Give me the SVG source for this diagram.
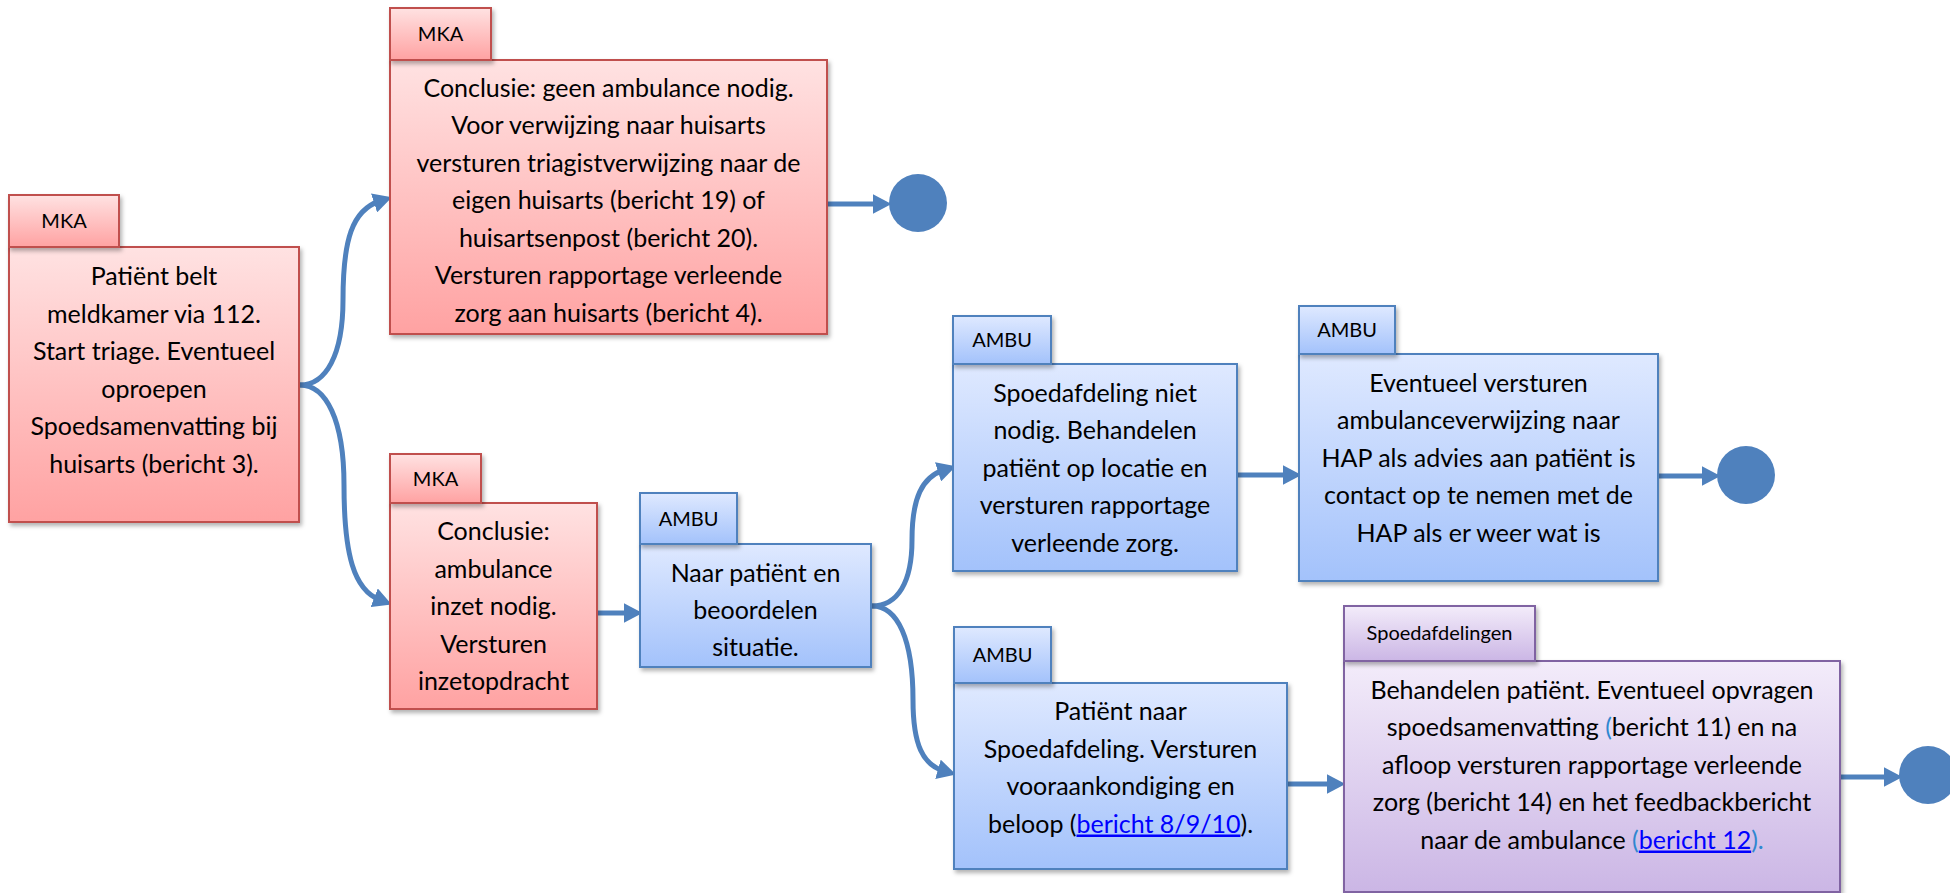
<svg xmlns="http://www.w3.org/2000/svg" width="1950" height="893" viewBox="0 0 1950 893">
<style>
.t{font-family:Lato,"Open Sans","Liberation Sans",sans-serif;font-size:25px;fill:#000;text-anchor:middle}
.tab{font-family:Lato,"Open Sans","Liberation Sans",sans-serif;font-size:20px;fill:#000;text-anchor:middle}
.red{fill:url(#gRed);stroke:#C0504D;stroke-width:2}
.blue{fill:url(#gBlue);stroke:#4F81BD;stroke-width:2}
.purple{fill:url(#gPurple);stroke:#8064A2;stroke-width:2}
.sh{filter:url(#shadow)}
.conn{fill:none;stroke:#4F81BD;stroke-width:5;marker-end:url(#arr)}
.end{fill:#4F81BD}
.link{fill:#0000FF;text-decoration:underline}
.lb{fill:#2F87D0}
</style>
<defs>
<linearGradient id="gRed" x1="0" y1="0" x2="0" y2="1"><stop offset="0" stop-color="#FFE2E2"/><stop offset="1" stop-color="#FFA2A2"/></linearGradient>
<linearGradient id="gBlue" x1="0" y1="0" x2="0" y2="1"><stop offset="0" stop-color="#DFE9FF"/><stop offset="1" stop-color="#A3C2FB"/></linearGradient>
<linearGradient id="gPurple" x1="0" y1="0" x2="0" y2="1"><stop offset="0" stop-color="#F3ECFA"/><stop offset="1" stop-color="#CBB6E5"/></linearGradient>
<filter id="shadow" x="-10%" y="-10%" width="125%" height="130%"><feDropShadow dx="2" dy="3" stdDeviation="2" flood-color="#000" flood-opacity="0.3"/></filter>
<marker id="arr" markerUnits="userSpaceOnUse" markerWidth="20" markerHeight="20" refX="5" refY="8" orient="auto" viewBox="0 0 16 16"><path d="M0,0 L15,8 L0,16 Z" fill="#4F81BD"/></marker>
</defs>

<g id="connectors">
<path class="conn" d="M300,385 C326,385 343,355 343,300 C343,240 352,210 380,201"/>
<path class="conn" d="M300,385 C326,385 344,420 344,485 C344,555 354,590 380,600"/>
<path class="conn" d="M828,204 L879,204"/>
<path class="conn" d="M598,613 L630,613"/>
<path class="conn" d="M872,606 C898,606 912,582 912,540 C912,498 922,477 944,470"/>
<path class="conn" d="M872,606 C898,606 913,640 913,700 C913,745 923,765 944,771"/>
<path class="conn" d="M1238,475 L1289,475"/>
<path class="conn" d="M1659,476 L1708,476"/>
<path class="conn" d="M1288,784 L1333,784"/>
<path class="conn" d="M1841,777 L1890,777"/>
</g>

<g id="nodeA">
<rect class="red sh" x="9" y="247" width="290" height="275"/>
<rect class="red sh" x="9" y="195" width="110" height="52"/>
<text class="tab" x="64" y="228">MKA</text>
<text class="t" x="154" y="285">Patiënt belt</text>
<text class="t" x="154" y="322.5">meldkamer via 112.</text>
<text class="t" x="154" y="360">Start triage. Eventueel</text>
<text class="t" x="154" y="397.5">oproepen</text>
<text class="t" x="154" y="435">Spoedsamenvatting bij</text>
<text class="t" x="154" y="472.5">huisarts (bericht 3).</text>
</g>

<g id="nodeGeenAmbulance">
<rect class="red sh" x="390" y="60" width="437" height="274"/>
<rect class="red sh" x="390" y="8" width="101" height="52"/>
<text class="tab" x="440.5" y="41">MKA</text>
<text class="t" x="608.5" y="96.5">Conclusie: geen ambulance nodig.</text>
<text class="t" x="608.5" y="134">Voor verwijzing naar huisarts</text>
<text class="t" x="608.5" y="171.5">versturen triagistverwijzing naar de</text>
<text class="t" x="608.5" y="209">eigen huisarts (bericht 19) of</text>
<text class="t" x="608.5" y="246.5">huisartsenpost (bericht 20).</text>
<text class="t" x="608.5" y="284">Versturen rapportage verleende</text>
<text class="t" x="608.5" y="321.5">zorg aan huisarts (bericht 4).</text>
</g>

<g id="end1"><circle class="end" cx="918" cy="203" r="29"/></g>

<g id="nodeInzet">
<rect class="red sh" x="390" y="503" width="207" height="206"/>
<rect class="red sh" x="390" y="454" width="91" height="49"/>
<text class="tab" x="435.5" y="485.5">MKA</text>
<text class="t" x="493.5" y="540">Conclusie:</text>
<text class="t" x="493.5" y="577.5">ambulance</text>
<text class="t" x="493.5" y="615">inzet nodig.</text>
<text class="t" x="493.5" y="652.5">Versturen</text>
<text class="t" x="493.5" y="690">inzetopdracht</text>
</g>

<g id="nodeBeoordelen">
<rect class="blue sh" x="640" y="544" width="231" height="123"/>
<rect class="blue sh" x="640" y="493" width="97" height="51"/>
<text class="tab" x="688.5" y="525.5">AMBU</text>
<text class="t" x="755.5" y="582">Naar patiënt en</text>
<text class="t" x="755.5" y="619">beoordelen</text>
<text class="t" x="755.5" y="656">situatie.</text>
</g>

<g id="nodeOpLocatie">
<rect class="blue sh" x="953" y="364" width="284" height="207"/>
<rect class="blue sh" x="953" y="316" width="98" height="48"/>
<text class="tab" x="1002" y="347">AMBU</text>
<text class="t" x="1095" y="401.5">Spoedafdeling niet</text>
<text class="t" x="1095" y="439">nodig. Behandelen</text>
<text class="t" x="1095" y="476.5">patiënt op locatie en</text>
<text class="t" x="1095" y="514">versturen rapportage</text>
<text class="t" x="1095" y="551.5">verleende zorg.</text>
</g>

<g id="nodeVerwijzing">
<rect class="blue sh" x="1299" y="354" width="359" height="227"/>
<rect class="blue sh" x="1299" y="306" width="96" height="48"/>
<text class="tab" x="1347" y="337">AMBU</text>
<text class="t" x="1478.5" y="391.5">Eventueel versturen</text>
<text class="t" x="1478.5" y="429">ambulanceverwijzing naar</text>
<text class="t" x="1478.5" y="466.5">HAP als advies aan patiënt is</text>
<text class="t" x="1478.5" y="504">contact op te nemen met de</text>
<text class="t" x="1478.5" y="541.5">HAP als er weer wat is</text>
</g>

<g id="end2"><circle class="end" cx="1746" cy="475" r="29"/></g>

<g id="nodeNaarSpoed">
<rect class="blue sh" x="954" y="683" width="333" height="186"/>
<rect class="blue sh" x="954" y="627" width="97" height="56"/>
<text class="tab" x="1002.5" y="662">AMBU</text>
<text class="t" x="1120.5" y="720">Patiënt naar</text>
<text class="t" x="1120.5" y="757.5">Spoedafdeling. Versturen</text>
<text class="t" x="1120.5" y="795">vooraankondiging en</text>
<text class="t" x="1120.5" y="832.5">beloop (<tspan class="link">bericht 8/9/10</tspan>).</text>
</g>

<g id="nodeSpoedafdelingen">
<rect class="purple sh" x="1344" y="661" width="496" height="231"/>
<rect class="purple sh" x="1344" y="606" width="191" height="55"/>
<text class="tab" x="1439.5" y="640">Spoedafdelingen</text>
<text class="t" x="1592" y="698.5">Behandelen patiënt. Eventueel opvragen</text>
<text class="t" x="1592" y="736">spoedsamenvatting <tspan class="lb">(</tspan>bericht 11) en na</text>
<text class="t" x="1592" y="773.5">afloop versturen rapportage verleende</text>
<text class="t" x="1592" y="811">zorg (bericht 14) en het feedbackbericht</text>
<text class="t" x="1592" y="848.5">naar de ambulance <tspan class="lb">(</tspan><tspan class="link">bericht 12</tspan><tspan class="lb">).</tspan></text>
</g>

<g id="end3"><circle class="end" cx="1928" cy="775" r="29"/></g>
</svg>
